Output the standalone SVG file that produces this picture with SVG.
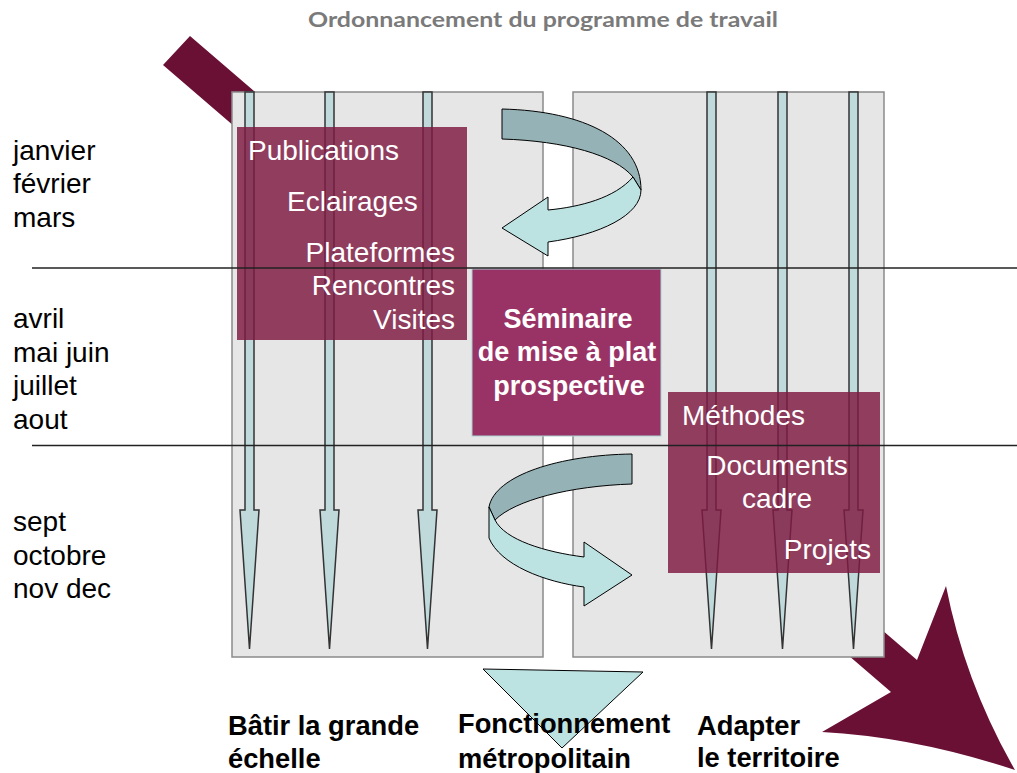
<svg xmlns="http://www.w3.org/2000/svg" width="1017" height="773" viewBox="0 0 1017 773">
<style>
.panel{fill:#e6e6e6;stroke:#8a8a8a;stroke-width:1.5}
.varrow{fill:#c0dadc;stroke:#333;stroke-width:1.5;stroke-linejoin:miter}
.pbox{fill:#7e1a42;fill-opacity:0.83}
.wt{font-family:"Liberation Sans",Arial,sans-serif;font-size:28px;fill:#fff}
.bt{font-family:"Liberation Sans",Arial,sans-serif;font-size:27px;fill:#fff;font-weight:bold;text-anchor:middle}
.mt{font-family:"Liberation Sans",Arial,sans-serif;font-size:28px;fill:#000}
.lb{font-family:"Liberation Sans",Arial,sans-serif;font-size:27.3px;fill:#000;font-weight:bold}
.dark{fill:#95b3b6;stroke:#000;stroke-width:1}
.light{fill:#bde2e2;stroke:#000;stroke-width:1}
.hl{stroke:#222;stroke-width:1.3}
</style>
<rect width="1017" height="773" fill="#fff"/>
<text x="543" y="27" text-anchor="middle" font-family="Lato,'Open Sans',sans-serif" font-weight="bold" font-size="21" fill="#7a7a7a" textLength="470" lengthAdjust="spacingAndGlyphs">Ordonnancement du programme de travail</text>

<g id="big-arrow">
<path d="M163,65 L190,36 L917,660 L946,586 Q965,683 1015,770 Q915,737 822,732 L891,692 Z" fill="#6a1035"/>
</g>

<g id="panel-left"><rect class="panel" x="232" y="92" width="311" height="565"/></g>
<g id="panel-right"><rect class="panel" x="573" y="92" width="311" height="565"/></g>

<g id="connectors">
<path class="varrow" d="M245,92 L254,92 L254,510 L259,510 L249.5,649 L240,510 L245,510 Z"/>
<path class="varrow" d="M325,92 L334,92 L334,510 L339,510 L329.5,649 L320,510 L325,510 Z"/>
<path class="varrow" d="M423,92 L432,92 L432,510 L437,510 L427.5,649 L418,510 L423,510 Z"/>
<path class="varrow" d="M707,92 L716,92 L716,510 L721,510 L711.5,649 L702,510 L707,510 Z"/>
<path class="varrow" d="M778,92 L787,92 L787,510 L792,510 L782.5,649 L773,510 L778,510 Z"/>
<path class="varrow" d="M849,92 L858,92 L858,510 L863,510 L853.5,649 L844,510 L849,510 Z"/>
<g id="uturn-top">
<path class="dark" d="M502,109 C585,111 641,140 641,190 L633,177 C615,155 565,141 502,139 Z"/>
<path class="light" d="M633,177 C615,198 580,207 548,210 L548,197 L502,228 L548,256 L548,242 C600,235 641,215 641,190 Z"/>
</g>
<g id="uturn-bottom">
<path class="dark" d="M632,454 C560,455 495,475 489,507 L495,520 C515,500 570,486 632,484 Z"/>
<path class="light" d="M489,507 L489,538 C500,565 545,582 584,587 L584,606 L632,575 L584,542 L584,557 C545,552 505,540 495,520 Z"/>
</g>
</g>

<g id="box-left">
<rect class="pbox" x="237" y="127" width="230" height="213"/>
<text class="wt" x="248" y="160">Publications</text>
<text class="wt" x="287" y="211">Eclairages</text>
<text class="wt" x="455" y="262" text-anchor="end">Plateformes</text>
<text class="wt" x="455" y="295" text-anchor="end">Rencontres</text>
<text class="wt" x="455" y="329" text-anchor="end">Visites</text>
</g>

<g id="box-seminaire">
<rect x="472" y="269" width="189" height="167" fill="#993366" stroke="#a9d2d2" stroke-width="1"/>
<text class="bt" x="568" y="328">Séminaire</text>
<text class="bt" x="567" y="361">de mise à plat</text>
<text class="bt" x="569" y="395">prospective</text>
</g>

<g id="box-right">
<rect class="pbox" x="668" y="392" width="212" height="181"/>
<text class="wt" x="682" y="425">Méthodes</text>
<text class="wt" x="777" y="475" text-anchor="middle">Documents</text>
<text class="wt" x="777" y="508" text-anchor="middle">cadre</text>
<text class="wt" x="871" y="559" text-anchor="end">Projets</text>
</g>

<g id="lines">
<line class="hl" x1="32" y1="268" x2="1017" y2="268"/>
<line class="hl" x1="32" y1="445.5" x2="1017" y2="445.5"/>
</g>

<g id="months">
<text class="mt" x="13" y="160">janvier</text>
<text class="mt" x="13" y="193">février</text>
<text class="mt" x="13" y="227">mars</text>
<text class="mt" x="13" y="328">avril</text>
<text class="mt" x="13" y="362">mai juin</text>
<text class="mt" x="13" y="395">juillet</text>
<text class="mt" x="13" y="429">aout</text>
<text class="mt" x="13" y="531">sept</text>
<text class="mt" x="13" y="565">octobre</text>
<text class="mt" x="13" y="598">nov dec</text>
</g>

<g id="funnel">
<path d="M483,669 L643,672 L562,748 Z" fill="#bde2e2" stroke="#000" stroke-width="1"/>
</g>

<g id="labels">
<text class="lb" x="228" y="735">Bâtir la grande</text>
<text class="lb" x="228" y="768">échelle</text>
<text class="lb" x="458" y="733">Fonctionnement</text>
<text class="lb" x="458" y="768">métropolitain</text>
<text class="lb" x="697" y="735">Adapter</text>
<text class="lb" x="697" y="767">le territoire</text>
</g>
</svg>
